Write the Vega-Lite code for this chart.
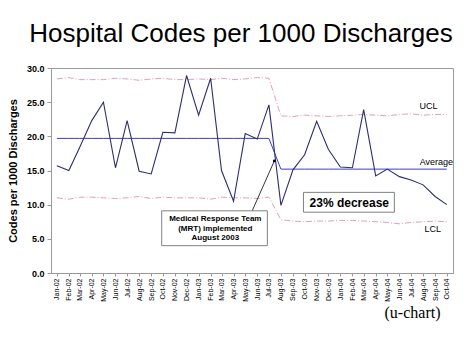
{
  "$schema": "https://vega.github.io/schema/vega-lite/v6.json",
  "autosize": {"type": "none"},
  "width": 402,
  "height": 205,
  "padding": {"left": 51, "top": 68, "right": 21, "bottom": 82},
  "background": "white",
  "config": {
    "font": "Liberation Sans",
    "view": {"stroke": "#999999", "strokeWidth": 1}
  },
  "title": {
    "text": "Hospital Codes per 1000 Discharges",
    "fontSize": 26,
    "font": "Liberation Sans",
    "fontWeight": "normal",
    "color": "#000000",
    "anchor": "middle",
    "frame": "group",
    "baseline": "alphabetic",
    "dx": -11,
    "offset": -4
  },
  "datasets": {
    "chart": [
      {"month": "2002-01-01", "rate": 15.7, "avg": 19.7, "ucl": 28.4, "lcl": 11.0},
      {"month": "2002-02-01", "rate": 15.0, "avg": 19.7, "ucl": 28.6, "lcl": 10.8},
      {"month": "2002-03-01", "rate": 18.4, "avg": 19.7, "ucl": 28.3, "lcl": 11.1},
      {"month": "2002-04-01", "rate": 22.3, "avg": 19.7, "ucl": 28.3, "lcl": 11.1},
      {"month": "2002-05-01", "rate": 25.0, "avg": 19.7, "ucl": 28.3, "lcl": 11.0},
      {"month": "2002-06-01", "rate": 15.4, "avg": 19.7, "ucl": 28.5, "lcl": 10.9},
      {"month": "2002-07-01", "rate": 22.3, "avg": 19.7, "ucl": 28.4, "lcl": 11.0},
      {"month": "2002-08-01", "rate": 14.9, "avg": 19.7, "ucl": 28.2, "lcl": 11.2},
      {"month": "2002-09-01", "rate": 14.5, "avg": 19.7, "ucl": 28.4, "lcl": 10.9},
      {"month": "2002-10-01", "rate": 20.6, "avg": 19.7, "ucl": 28.5, "lcl": 11.1},
      {"month": "2002-11-01", "rate": 20.5, "avg": 19.7, "ucl": 28.3, "lcl": 11.0},
      {"month": "2002-12-01", "rate": 28.9, "avg": 19.7, "ucl": 28.3, "lcl": 11.0},
      {"month": "2003-01-01", "rate": 23.1, "avg": 19.7, "ucl": 28.4, "lcl": 11.0},
      {"month": "2003-02-01", "rate": 28.5, "avg": 19.7, "ucl": 28.3, "lcl": 10.8},
      {"month": "2003-03-01", "rate": 15.0, "avg": 19.7, "ucl": 28.5, "lcl": 11.1},
      {"month": "2003-04-01", "rate": 10.5, "avg": 19.7, "ucl": 28.3, "lcl": 11.0},
      {"month": "2003-05-01", "rate": 20.4, "avg": 19.7, "ucl": 28.4, "lcl": 11.0},
      {"month": "2003-06-01", "rate": 19.6, "avg": 19.7, "ucl": 28.6, "lcl": 10.9},
      {"month": "2003-07-01", "rate": 24.6, "avg": 19.7, "ucl": 28.5, "lcl": 11.1},
      {"month": "2003-08-01", "rate": 9.9, "avg": 15.2, "ucl": 23.0, "lcl": 7.8},
      {"month": "2003-09-01", "rate": 15.1, "avg": 15.2, "ucl": 22.9, "lcl": 7.6},
      {"month": "2003-10-01", "rate": 17.3, "avg": 15.2, "ucl": 23.1, "lcl": 7.5},
      {"month": "2003-11-01", "rate": 22.2, "avg": 15.2, "ucl": 23.0, "lcl": 7.6},
      {"month": "2003-12-01", "rate": 18.1, "avg": 15.2, "ucl": 22.9, "lcl": 7.6},
      {"month": "2004-01-01", "rate": 15.5, "avg": 15.2, "ucl": 23.0, "lcl": 7.7},
      {"month": "2004-02-01", "rate": 15.4, "avg": 15.2, "ucl": 23.1, "lcl": 7.7},
      {"month": "2004-03-01", "rate": 23.9, "avg": 15.2, "ucl": 23.2, "lcl": 7.6},
      {"month": "2004-04-01", "rate": 14.2, "avg": 15.2, "ucl": 23.1, "lcl": 7.5},
      {"month": "2004-05-01", "rate": 15.2, "avg": 15.2, "ucl": 23.0, "lcl": 7.4},
      {"month": "2004-06-01", "rate": 14.1, "avg": 15.2, "ucl": 23.2, "lcl": 7.2},
      {"month": "2004-07-01", "rate": 13.6, "avg": 15.2, "ucl": 23.3, "lcl": 7.4},
      {"month": "2004-08-01", "rate": 12.9, "avg": 15.2, "ucl": 23.1, "lcl": 7.5},
      {"month": "2004-09-01", "rate": 11.2, "avg": 15.2, "ucl": 23.2, "lcl": 7.6},
      {"month": "2004-10-01", "rate": 10.0, "avg": 15.2, "ucl": 23.2, "lcl": 7.5}
    ],
    "labels": [
      {"month": "2004-08-15", "value": 24.4, "label": "UCL"},
      {"month": "2004-09-04", "value": 16.3, "label": "Average"},
      {"month": "2004-08-26", "value": 6.5, "label": "LCL"}
    ],
    "boxes": [
      {"start": "2002-09-28", "end": "2003-06-27", "top": 9.1, "bottom": 4.0},
      {"start": "2003-09-28", "end": "2004-05-19", "top": 11.8, "bottom": 8.9}
    ],
    "mrt": [
      {"month": "2003-02-13", "value": 7.95, "label": "Medical Response Team"},
      {"month": "2003-02-13", "value": 6.5, "label": "(MRT) implemented"},
      {"month": "2003-02-13", "value": 5.05, "label": "August 2003"}
    ],
    "decrease": [
      {"month": "2004-01-24", "value": 10.3, "label": "23% decrease"}
    ],
    "arrow": [
      {"month": "2003-05-19", "value": 9.1, "end": false},
      {"month": "2003-07-15", "value": 16.4, "end": true}
    ]
  },
  "layer": [
    {
      "data": {"name": "chart"},
      "mark": {"type": "line", "color": "#e3a0b2", "strokeWidth": 1, "strokeDash": [6, 2, 1, 2]},
      "encoding": {
        "x": {
          "field": "month", "type": "temporal",
          "scale": {"type": "utc", "domain": [{"year": 2001, "month": 12, "date": 17, "utc": true}, {"year": 2004, "month": 10, "date": 17, "utc": true}]},
          "axis": {
            "format": "%b-%y",
            "tickCount": {"interval": "month", "step": 1},
            "labelAngle": -90,
            "labelFontSize": 7,
            "labelOverlap": false,
            "labelPadding": 2,
            "labelColor": "#000000",
            "labelFlush": false,
            "tickSize": 3,
            "tickColor": "#999999",
            "domainColor": "#999999",
            "grid": false,
            "title": "(u-chart)",
            "titleFont": "Liberation Serif",
            "titleFontSize": 16,
            "titleFontWeight": "normal",
            "titleColor": "#000000",
            "titleX": 389,
            "titleY": 44,
            "titleAlign": "right",
            "titleBaseline": "alphabetic",
            "titleAnchor": "end"
          }
        },
        "y": {
          "field": "ucl", "type": "quantitative",
          "scale": {"domain": [0, 30], "nice": false, "zero": true},
          "axis": {
            "values": [0, 5, 10, 15, 20, 25, 30],
            "tickCount": 10,
            "format": ".1f",
            "labelFontSize": 9,
            "labelFontWeight": "bold",
            "labelColor": "#000000",
            "labelOverlap": false,
            "labelFlush": false,
            "labelPadding": 3,
            "tickSize": 4,
            "tickColor": "#999999",
            "domainColor": "#999999",
            "grid": false,
            "title": "Codes per 1000 Discharges",
            "titleFontSize": 11,
            "titleFontWeight": "bold",
            "titleColor": "#000000",
            "titlePadding": 8
          }
        }
      }
    },
    {
      "data": {"name": "chart"},
      "mark": {"type": "line", "color": "#e3a0b2", "strokeWidth": 1, "strokeDash": [6, 2, 1, 2]},
      "encoding": {
        "x": {"field": "month", "type": "temporal"},
        "y": {"field": "lcl", "type": "quantitative"}
      }
    },
    {
      "data": {"name": "chart"},
      "mark": {"type": "line", "color": "#3b3bc4", "strokeWidth": 1},
      "encoding": {
        "x": {"field": "month", "type": "temporal"},
        "y": {"field": "avg", "type": "quantitative"}
      }
    },
    {
      "data": {"name": "chart"},
      "mark": {"type": "line", "color": "#2d2d72", "strokeWidth": 1.1},
      "encoding": {
        "x": {"field": "month", "type": "temporal"},
        "y": {"field": "rate", "type": "quantitative"}
      }
    },
    {
      "data": {"name": "labels"},
      "mark": {"type": "text", "fontSize": 9, "color": "#000000", "align": "center", "baseline": "middle"},
      "encoding": {
        "x": {"field": "month", "type": "temporal"},
        "y": {"field": "value", "type": "quantitative"},
        "text": {"field": "label"}
      }
    },
    {
      "data": {"name": "arrow"},
      "mark": {"type": "line", "color": "#000000", "strokeWidth": 0.8},
      "encoding": {
        "x": {"field": "month", "type": "temporal"},
        "y": {"field": "value", "type": "quantitative"}
      }
    },
    {
      "data": {"name": "arrow"},
      "transform": [{"filter": "datum.end"}],
      "mark": {"type": "point", "filled": true, "color": "#000000", "size": 8, "opacity": 1},
      "encoding": {
        "x": {"field": "month", "type": "temporal"},
        "y": {"field": "value", "type": "quantitative"}
      }
    },
    {
      "data": {"name": "boxes"},
      "mark": {"type": "rect", "fill": "#ffffff", "stroke": "#808080", "strokeWidth": 1},
      "encoding": {
        "x": {"field": "start", "type": "temporal"},
        "x2": {"field": "end"},
        "y": {"field": "top", "type": "quantitative"},
        "y2": {"field": "bottom"}
      }
    },
    {
      "data": {"name": "mrt"},
      "mark": {"type": "text", "fontSize": 8, "fontWeight": "bold", "color": "#000000", "align": "center", "baseline": "middle"},
      "encoding": {
        "x": {"field": "month", "type": "temporal"},
        "y": {"field": "value", "type": "quantitative"},
        "text": {"field": "label"}
      }
    },
    {
      "data": {"name": "decrease"},
      "mark": {"type": "text", "fontSize": 12, "fontWeight": "bold", "color": "#000000", "align": "center", "baseline": "middle"},
      "encoding": {
        "x": {"field": "month", "type": "temporal"},
        "y": {"field": "value", "type": "quantitative"},
        "text": {"field": "label"}
      }
    }
  ]
}
